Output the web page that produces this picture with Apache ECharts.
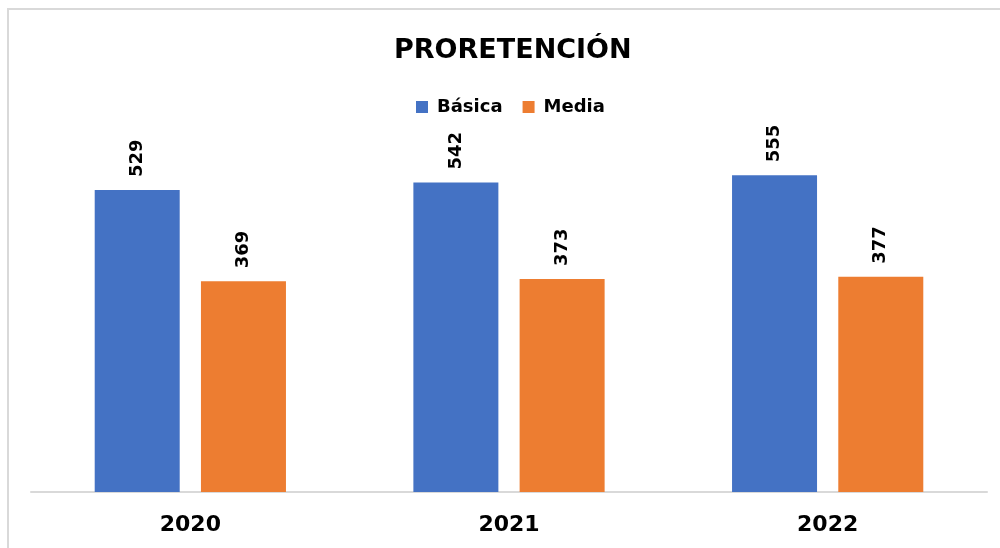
<!DOCTYPE html>
<html>
<head>
<meta charset="utf-8">
<script src="https://cdn.jsdelivr.net/npm/echarts@6/dist/echarts.min.js"></script>
<style>
  html, body { margin: 0; padding: 0; background: #fff; }
  #chart { width: 1000px; height: 548px; }
</style>
</head>
<body>
<div id="chart"></div>
<script>
// datos del gráfico
var years = ['2020', '2021', '2022'];
var basica = [529, 542, 555];
var media = [369, 373, 377];

var chart = echarts.init(document.getElementById('chart'));

var labelStyle = {
  show: true,
  position: 'top',
  rotate: 90,
  align: 'left',
  verticalAlign: 'middle',
  distance: 13,
  fontFamily: 'DejaVu Sans',
  fontWeight: 'bold',
  fontSize: 18,
  color: '#000'
};

var option = {
  animation: false,
  title: {
    text: 'PRORETENCIÓN',
    left: 389,
    top: 32,
    textStyle: {
      fontFamily: 'DejaVu Sans',
      fontWeight: 'bold',
      fontSize: 27,
      color: '#000'
    }
  },
  legend: {
    top: 93,
    left: 411,
    itemWidth: 12,
    itemHeight: 12,
    itemGap: 20,
    icon: 'rect',
    textStyle: {
      fontFamily: 'DejaVu Sans',
      fontWeight: 'bold',
      fontSize: 18,
      color: '#000',
      padding: [0, 0, 0, 4]
    }
  },
  graphic: [{
    type: 'rect',
    shape: { x: 8, y: 9, width: 1000, height: 600 },
    style: { fill: 'none', stroke: '#d9d9d9', lineWidth: 2 },
    silent: true
  }],
  grid: {
    left: 31,
    right: 13,
    top: 149.5,
    bottom: 56
  },
  xAxis: {
    type: 'category',
    data: years,
    axisLine: { lineStyle: { color: '#d9d9d9', width: 2 } },
    axisTick: { show: false },
    axisLabel: {
      margin: 22,
      fontFamily: 'DejaVu Sans',
      fontWeight: 'bold',
      fontSize: 22,
      color: '#000'
    }
  },
  yAxis: {
    type: 'value',
    min: 0,
    max: 600,
    show: false,
    splitLine: { show: false }
  },
  series: [{
    name: 'Básica',
    type: 'bar',
    data: basica,
    barWidth: 85,
    barGap: '25%',
    itemStyle: { color: '#4472C4' },
    label: labelStyle
  }, {
    name: 'Media',
    type: 'bar',
    data: media,
    barWidth: 85,
    itemStyle: { color: '#ED7D31' },
    label: labelStyle
  }]
};

chart.setOption(option);
</script>
</body>
</html>
